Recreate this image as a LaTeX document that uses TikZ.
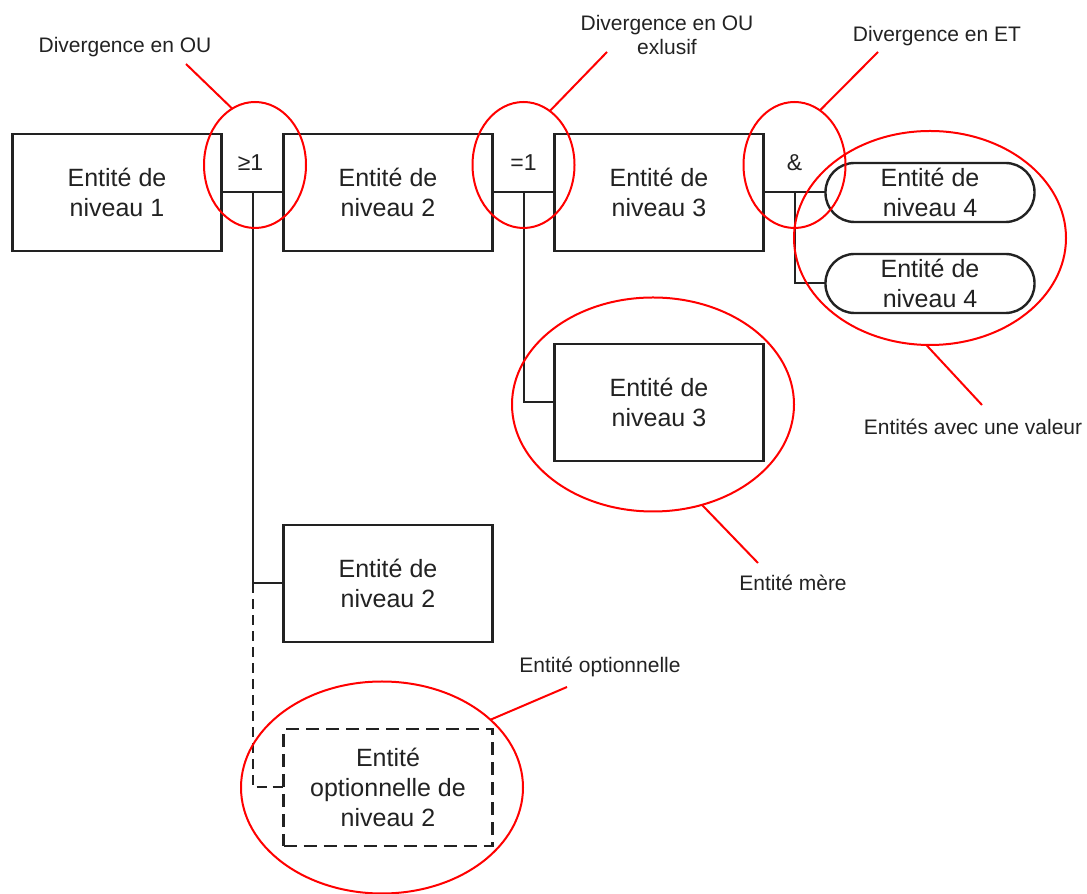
\documentclass[tikz,border=0pt]{standalone}
\usepackage{fontspec}
\setmainfont{Liberation Sans}
\usetikzlibrary{shapes.geometric, positioning, calc}
\definecolor{ringred}{HTML}{FF0000}
\definecolor{inkgray}{HTML}{222222}

\begin{document}
\begin{tikzpicture}[
    x=1pt, y=1pt,
    node distance=62pt,
    entity/.style={rectangle, draw=inkgray, line width=2.4pt, outer sep=0pt, minimum width=209pt, minimum height=117pt, align=center, font=\fontsize{25}{30}\selectfont, text=inkgray},
    valued/.style={entity, rounded corners=29pt, minimum height=59pt},
    optional/.style={entity, dash pattern=on 13pt off 7pt},
    gate/.style={font=\fontsize{23}{28}\selectfont, text=inkgray},
    link/.style={draw=inkgray, line width=2pt},
    ring/.style={ellipse, draw=ringred, line width=2pt, inner sep=0pt, outer sep=0pt},
    note/.style={font=\fontsize{21}{24}\selectfont, align=center, text=inkgray},
    callout/.style={draw=ringred, line width=2pt}
]
\useasboundingbox (0,0) rectangle (1087,894);

% entities
\node[entity] (lvl1) at (117,701.5) {Entité de\\niveau 1};
\node[entity, right=of lvl1] (lvl2) {Entité de\\niveau 2};
\node[entity, right=of lvl2] (lvl3) {Entité de\\niveau 3};
\node[valued, right=of lvl3] (lvl4a) {Entité de\\niveau 4};
\node[valued, below=32pt of lvl4a] (lvl4b) {Entité de\\niveau 4};
\node[entity, below=93pt of lvl3] (lvl3b) {Entité de\\niveau 3};
\node[entity, below=274pt of lvl2] (lvl2b) {Entité de\\niveau 2};
\node[optional, below=87pt of lvl2b] (lvl2opt) {Entité\\optionnelle de\\niveau 2};

% divergences
\coordinate (divor) at ($(lvl1.east)!0.5!(lvl2.west)$);
\coordinate (divxor) at ($(lvl2.east)!0.5!(lvl3.west)$);
\coordinate (divand) at ($(lvl3.east)!0.5!(lvl4a.west)$);

\node[gate] (orgate) at ([shift={(-2,30)}]divor) {≥1};
\node[gate] (xorgate) at ([yshift=30pt]divxor) {=1};
\node[gate] (andgate) at ([yshift=30pt]divand) {\&};

\draw[link] (lvl1) -- (lvl2);
\draw[link] (lvl2) -- (lvl3);
\draw[link] (lvl3) -- (lvl4a);
\draw[link] (divor) |- (lvl2b);
\draw[link, dash pattern=on 10pt off 6pt] (divor |- lvl2b.west) |- (lvl2opt);
\draw[link] (divxor) |- (lvl3b);
\draw[link] (divand) |- (lvl4b);

% red marks
\node[ring, minimum width=102pt, minimum height=126pt] (ringor) at ([shift={(2.5,27.5)}]divor) {};
\node[ring, minimum width=102pt, minimum height=126pt] (ringxor) at ([yshift=27.5pt]divxor) {};
\node[ring, minimum width=102pt, minimum height=126pt] (ringand) at ([yshift=27.5pt]divand) {};
\node[ring, minimum width=272pt, minimum height=214pt] (ringvalued) at ($(lvl4a)!0.5!(lvl4b)$) {};
\node[ring, minimum width=282pt, minimum height=214pt] (ringparent) at ([shift={(-6,-2)}]lvl3b) {};
\node[ring, minimum width=282pt, minimum height=212pt] (ringopt) at ([xshift=-6pt]lvl2opt) {};

\node[note] (noteor) at (125,847) {Divergence en OU};
\node[note] (notexor) at (667,859) {Divergence en OU\\exlusif};
\node[note] (noteand) at (937,858) {Divergence en ET};
\node[note] (notevalued) at (973,467) {Entités avec une valeur};
\node[note] (noteparent) at (793,311) {Entité mère};
\node[note] (noteopt) at (600,227) {Entité optionnelle};

\draw[callout] ([shift={(61,-17)}]noteor.center) -- (ringor.112);
\draw[callout] ([shift={(-60,-17)}]notexor.center) -- (ringxor.64);
\draw[callout] ([shift={(-59,-16)}]noteand.center) -- (ringand.65);
\draw[callout] ([shift={(9,22)}]notevalued.center) -- (ringvalued.268);
\draw[callout] ([shift={(-35,20)}]noteparent.center) -- (ringparent.296);
\draw[callout] ([shift={(-33,-20)}]noteopt.center) -- (ringopt.32);

\end{tikzpicture}
\end{document}
